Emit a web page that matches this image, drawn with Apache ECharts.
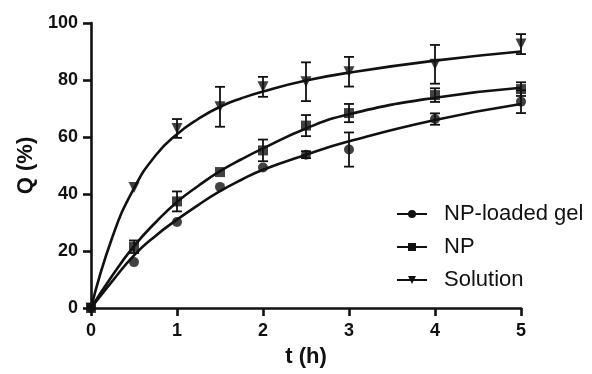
<!DOCTYPE html>
<html lang="en">
<head>
  <meta charset="UTF-8">
  <title>Q release</title>
  <style>
    html, body { margin: 0; padding: 0; background: #fff; }
    #chart { width: 592px; height: 374px; }
  </style>
</head>
<body>
  <div id="chart"></div>
  <script src="https://cdn.jsdelivr.net/npm/echarts@6/dist/echarts.min.js"></script>
  <script>
    // measured points (mean, sd)
    var times = [0, 0.5, 1, 1.5, 2, 2.5, 3, 4, 5];
    var gelMean = [0, 16.1, 30.2, 42.5, 49.3, 53.8, 55.6, 66.3, 72.4];
    var gelSd = [0, 0, 0, 0, 0, 1.2, 6, 2, 4];
    var npMean = [0, 21.5, 37.4, 47.7, 55.3, 64, 68.4, 74.7, 76.8];
    var npSd = [0, 2.2, 3.5, 0, 3.8, 3.7, 3.2, 2.4, 2.4];
    var solMean = [0, 42.3, 63, 70.6, 77.6, 79.4, 82.9, 85.5, 92.6];
    var solSd = [0, 0, 3.3, 7, 3.5, 6.8, 5.2, 6.8, 3.5];

    // fitted curves
    var fitTimes = [0, 0.25, 0.5, 0.75, 1, 1.25, 1.5, 1.75, 2, 2.5, 3, 4, 5];
    var gelFit = [0, 9.5, 18.5, 25.3, 31, 36.2, 41, 45, 48.5, 53.8, 58.5, 66, 71.6];
    var npFit = [0, 11.5, 21.7, 30, 37.2, 42.9, 48, 52.2, 56, 63, 68, 73.8, 77.3];
    var solFit = [0, 25, 42, 53.5, 61, 66.4, 70.6, 73.6, 76, 79.8, 82.6, 86.8, 90];

    var seriesNames = ['NP-loaded gel', 'NP', 'Solution'];
    var downTri = 'path://M0,0L10,0L5,9Z';

    function pairs(xs, ys) {
      return xs.map(function (x, i) { return [x, ys[i]]; });
    }
    function bars(xs, m, sd) {
      return xs.map(function (x, i) { return [x, m[i] - sd[i], m[i] + sd[i], sd[i]]; });
    }

    function errorBarItem(params, api) {
      if (!api.value(3)) return null;
      var x = api.value(0);
      var lo = api.coord([x, api.value(1)]);
      var hi = api.coord([x, api.value(2)]);
      var half = 5;
      var st = { stroke: '#111', lineWidth: 1.8 };
      return {
        type: 'group',
        children: [
          { type: 'line', shape: { x1: hi[0], y1: hi[1], x2: lo[0], y2: lo[1] }, style: st },
          { type: 'line', shape: { x1: hi[0] - half, y1: hi[1], x2: hi[0] + half, y2: hi[1] }, style: st },
          { type: 'line', shape: { x1: lo[0] - half, y1: lo[1], x2: lo[0] + half, y2: lo[1] }, style: st }
        ]
      };
    }

    function curve(name, data, symbol) {
      return {
        name: name,
        type: 'line',
        data: data,
        smooth: 0.5,
        symbol: symbol,
        symbolSize: 8,
        showSymbol: false,
        lineStyle: { color: '#111', width: 2.6 },
        itemStyle: { color: '#111' },
        silent: true,
        z: 2
      };
    }
    function marks(name, data, symbol, size) {
      return {
        name: name,
        type: 'scatter',
        data: data,
        symbol: symbol,
        symbolSize: size,
        itemStyle: { color: '#111' },
        z: 4
      };
    }
    function errs(name, data) {
      return {
        name: name,
        type: 'custom',
        renderItem: errorBarItem,
        data: data,
        encode: { x: 0, y: [1, 2] },
        z: 3
      };
    }

    var chart = echarts.init(document.getElementById('chart'));
    var option = {
      backgroundColor: '#fff',
      animation: false,
      textStyle: { fontFamily: 'Liberation Sans, Arial, sans-serif' },
      grid: { left: 91, right: 71, top: 23, bottom: 66 },
      legend: {
        data: seriesNames,
        orient: 'vertical',
        left: 396,
        top: 203,
        itemWidth: 30,
        itemHeight: 10,
        itemGap: 11,
        padding: 0,
        textStyle: { fontSize: 22, color: '#111', padding: [0, 0, 0, 12] }
      },
      xAxis: {
        type: 'value',
        min: 0,
        max: 5,
        interval: 1,
        name: 't (h)',
        nameLocation: 'middle',
        nameGap: 38,
        nameTextStyle: { fontSize: 22, fontWeight: 'bold', color: '#111' },
        splitLine: { show: false },
        axisLine: { lineStyle: { color: '#111', width: 2.6 } },
        axisTick: { length: 8, lineStyle: { color: '#111', width: 2.6 } },
        axisLabel: { margin: 14, fontSize: 18, fontWeight: 'bold', color: '#111' }
      },
      yAxis: {
        type: 'value',
        min: 0,
        max: 100,
        interval: 20,
        name: 'Q (%)',
        nameLocation: 'middle',
        nameGap: 52,
        nameTextStyle: { fontSize: 22, fontWeight: 'bold', color: '#111' },
        splitLine: { show: false },
        axisLine: { show: true, lineStyle: { color: '#111', width: 2.6 } },
        axisTick: { show: true, length: 8, lineStyle: { color: '#111', width: 2.6 } },
        axisLabel: { margin: 13, fontSize: 18, fontWeight: 'bold', color: '#111' }
      },
      series: [
        curve(seriesNames[0], pairs(fitTimes, gelFit), 'circle'),
        curve(seriesNames[1], pairs(fitTimes, npFit), 'rect'),
        curve(seriesNames[2], pairs(fitTimes, solFit), downTri),
        errs(seriesNames[0], bars(times, gelMean, gelSd)),
        errs(seriesNames[1], bars(times, npMean, npSd)),
        errs(seriesNames[2], bars(times, solMean, solSd)),
        marks(seriesNames[0], pairs(times, gelMean), 'circle', 10),
        marks(seriesNames[1], pairs(times, npMean), 'rect', 10),
        marks(seriesNames[2], pairs(times, solMean), downTri, 11)
      ]
    };
    chart.setOption(option);
  </script>
</body>
</html>
